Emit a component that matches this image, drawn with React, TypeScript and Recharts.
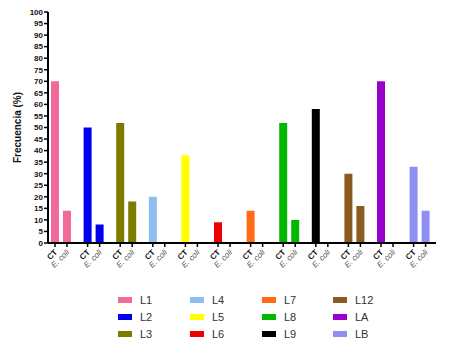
import React from "react";
import { BarChart, Bar, XAxis, YAxis, Cell } from "recharts";

const groups = ["L1", "L2", "L3", "L4", "L5", "L6", "L7", "L8", "L9", "L12", "LA", "LB"];
const ctValues = [70, 50, 52, 20, 38, 9, 14, 52, 58, 30, 70, 33];
const ecoliValues = [14, 8, 18, 0, 0, 0, 0, 10, 0, 16, 0, 14];
const colors = ["#f06b9b", "#0000ee", "#7d7a00", "#8fbdf0", "#ffff00", "#ee0000", "#ff6a12", "#00b800", "#000000", "#8b5a1e", "#9a00cc", "#8f8ff2"];
const subLabels = ["CT", "E. coli"];
const yTicks = [0, 5, 10, 15, 20, 25, 30, 35, 40, 45, 50, 55, 60, 65, 70, 75, 80, 85, 90, 95, 100];

const PAIR_OFFSET = 0.368;

const data = groups.flatMap((g, i) => [
  { x: i, value: ctValues[i], color: colors[i], label: 0 },
  { x: i + PAIR_OFFSET, value: ecoliValues[i], color: colors[i], label: 1 },
]);
const xTicks = data.map((d) => d.x);
const labelFor = (v: number) => {
  const d = data.find((e) => Math.abs(e.x - v) < 1e-6);
  return d ? d.label : 0;
};

const FONT = "'Liberation Sans', Arial, sans-serif";

const XTick = (props: any) => {
  const { x, y, payload } = props;
  const lbl = labelFor(payload.value);
  return (
    <g transform={`translate(${x + 1},${y + 2})`}>
      <text
        transform="rotate(-45)"
        textAnchor="end"
        dominantBaseline="central"
        fontFamily={FONT}
        fontSize={8}
        fontWeight={lbl === 0 ? "bold" : "normal"}
        fontStyle={lbl === 0 ? "normal" : "italic"}
        fill={lbl === 0 ? "#111" : "#555"}
      >
        {subLabels[lbl]}
      </text>
    </g>
  );
};

const legendCols = [118, 190, 262, 333];
const legendRows = [300, 317, 334];

export default function App() {
  return (
    <div style={{ position: "absolute", left: 0, top: 0, width: 450, height: 360, background: "#fff" }}>
      <BarChart
        width={450}
        height={360}
        data={data}
        margin={{ top: 12, right: 14, left: 16, bottom: 0 }}
      >
        <XAxis
          type="number"
          dataKey="x"
          domain={[-0.215, 11.687]}
          ticks={xTicks}
          interval={0}
          tick={<XTick />}
          tickSize={4}
          axisLine={{ stroke: "#000", strokeWidth: 2 }}
          tickLine={{ stroke: "#000", strokeWidth: 1.5 }}
          allowDataOverflow
          height={117}
        />
        <YAxis
          type="number"
          domain={[0, 100]}
          ticks={yTicks}
          interval={0}
          width={32}
          tickSize={4}
          axisLine={{ stroke: "#000", strokeWidth: 2 }}
          tickLine={{ stroke: "#000", strokeWidth: 1.5 }}
          tick={{ fontFamily: FONT, fontSize: 8, fontWeight: "bold", fill: "#111" }}
          tickMargin={1}
          label={{
            value: "Frecuencia (%)",
            angle: -90,
            position: "insideLeft",
            dx: -4,
            style: { fontFamily: FONT, fontSize: 10, fontWeight: "bold", fill: "#111", textAnchor: "middle" },
          }}
        />
        <Bar dataKey="value" barSize={8} isAnimationActive={false}>
          {data.map((d, i) => (
            <Cell key={i} fill={d.color} />
          ))}
        </Bar>
      </BarChart>
      {groups.map((g, i) => {
        const col = Math.floor(i / 3);
        const row = i % 3;
        return (
          <div
            key={g}
            style={{
              position: "absolute",
              left: legendCols[col],
              top: legendRows[row] - 7,
              height: 14,
              display: "flex",
              alignItems: "center",
              fontFamily: FONT,
              fontSize: 11,
              color: "#333",
            }}
          >
            <span style={{ display: "inline-block", width: 14, height: 6, background: colors[i], marginRight: 8 }} />
            <span>{g}</span>
          </div>
        );
      })}
    </div>
  );
}
